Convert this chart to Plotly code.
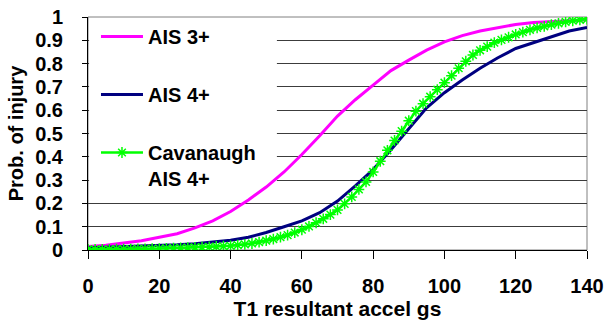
import plotly.graph_objects as go

# ---- data ----
x_ais = [0, 5, 10, 15, 20, 25, 30, 35, 40, 45, 50, 55, 60, 65, 70, 75, 80, 85, 90,
         95, 100, 105, 110, 115, 120, 125, 130, 135, 140]
ais3 = [0.015, 0.02, 0.03, 0.04, 0.055, 0.07, 0.095, 0.125, 0.165, 0.215, 0.27, 0.335,
        0.41, 0.49, 0.575, 0.645, 0.708, 0.77, 0.815, 0.858, 0.893, 0.92, 0.94, 0.955,
        0.968, 0.976, 0.981, 0.985, 0.988]
ais4 = [0.01, 0.012, 0.014, 0.016, 0.019, 0.022, 0.027, 0.033, 0.042, 0.055, 0.075, 0.1,
        0.125, 0.16, 0.21, 0.275, 0.345, 0.43, 0.52, 0.61, 0.675, 0.73, 0.78, 0.825,
        0.865, 0.89, 0.915, 0.94, 0.955]

x_cav = [0, 2, 4, 6, 8, 10, 12, 14, 16, 18, 20, 22, 24, 26, 28, 30, 32, 34, 36, 38,
         40, 42, 44, 46, 48, 50, 52, 54, 56, 58, 60, 62, 64, 66, 68, 70, 72, 74, 76, 78,
         80, 82, 84, 86, 88, 90, 92, 94, 96, 98, 100, 102, 104, 106, 108, 110, 112, 114,
         116, 118, 120, 122, 124, 126, 128, 130, 132, 134, 136, 138, 140]
cav = [0.003, 0.003, 0.003, 0.003, 0.004, 0.004, 0.004, 0.005, 0.005, 0.006, 0.006,
       0.007, 0.008, 0.009, 0.010, 0.011, 0.012, 0.013, 0.015, 0.016, 0.018, 0.021,
       0.024, 0.028, 0.034, 0.040, 0.047, 0.055, 0.064, 0.075, 0.087, 0.101, 0.117,
       0.134, 0.152, 0.172, 0.198, 0.228, 0.26, 0.292, 0.335, 0.381, 0.428, 0.47, 0.51,
       0.555, 0.596, 0.628, 0.658, 0.688, 0.718, 0.748, 0.78, 0.81, 0.837, 0.857, 0.873,
       0.89, 0.902, 0.913, 0.925, 0.935, 0.945, 0.953, 0.96, 0.967, 0.973, 0.979, 0.984,
       0.988, 0.991]

x_ticks = [0, 20, 40, 60, 80, 100, 120, 140]
x_ticktext = ["0", "20", "40", "60", "80", "100", "120", "140"]
y_ticks = [0, 0.1, 0.2, 0.3, 0.4, 0.5, 0.6, 0.7, 0.8, 0.9, 1]
y_ticktext = ["0", "0.1", "0.2", "0.3", "0.4", "0.5", "0.6", "0.7", "0.8", "0.9", "1"]

FONT = "Liberation Sans"


def b(s):
    return "<b>" + s + "</b>"


fig = go.Figure()
fig.add_trace(go.Scatter(x=x_ais, y=ais3, mode="lines", name=b("AIS 3+"),
                         legendgroup="a",
                         line=dict(color="#FF00FF", width=3)))
fig.add_trace(go.Scatter(x=x_ais, y=ais4, mode="lines", name=b("AIS 4+"),
                         legendgroup="b",
                         line=dict(color="#000080", width=3)))
fig.add_trace(go.Scatter(x=x_cav, y=cav, mode="lines+markers",
                         name=b("Cavanaugh") + "<br>" + b("AIS 4+"), legendgroup="c",
                         line=dict(color="#00FF00", width=2.5),
                         marker=dict(symbol="asterisk-open", size=9,
                                     line=dict(color="#00FF00", width=1.5))))

fig.update_layout(
    width=606, height=324,
    margin=dict(l=88, r=19, t=17, b=74, autoexpand=False),
    paper_bgcolor="white", plot_bgcolor="white",
    font=dict(family=FONT, size=20, color="black"),
    showlegend=True,
    legend=dict(x=0.016, y=1.0, xanchor="left", yanchor="top",
                bgcolor="rgba(0,0,0,0)", borderwidth=0, tracegroupgap=29,
                valign="top", itemwidth=42,
                font=dict(family=FONT, size=20, color="black")),
    hovermode=False,
    shapes=[
        dict(type="rect", xref="paper", yref="paper", x0=0, x1=1, y0=0, y1=1,
             line=dict(color="#808080", width=1), layer="below"),
        # white legend panel hiding the gridlines behind the legend
        dict(type="rect", xref="x", yref="y", x0=0.3, x1=53,
             y0=0.275, y1=0.99, line=dict(width=0), fillcolor="white",
             layer="between"),
    ],
)
fig.update_xaxes(range=[0, 140], tickvals=x_ticks, ticktext=[b(t) for t in x_ticktext],
                 showgrid=False, zeroline=False, automargin=False,
                 showline=True, linecolor="black", linewidth=1,
                 ticks="outside", ticklen=8, tickcolor="black", tickwidth=1,
                 ticklabelstandoff=10,
                 tickfont=dict(family=FONT, size=20),
                 title=dict(text=b("T1 resultant accel gs"), standoff=2,
                            font=dict(family=FONT, size=21)))
fig.update_yaxes(range=[0, 1], tickvals=y_ticks, ticktext=[b(t) for t in y_ticktext],
                 showgrid=True, gridcolor="#3c3c3c", gridwidth=1, zeroline=False,
                 automargin=False,
                 showline=True, linecolor="black", linewidth=1,
                 ticks="outside", ticklen=5, tickcolor="black", tickwidth=1,
                 ticklabelstandoff=15,
                 tickfont=dict(family=FONT, size=20),
                 title=dict(text=b("Prob. of injury"), standoff=6,
                            font=dict(family=FONT, size=20)))

fig.write_html("out.html", config={"displayModeBar": False})
